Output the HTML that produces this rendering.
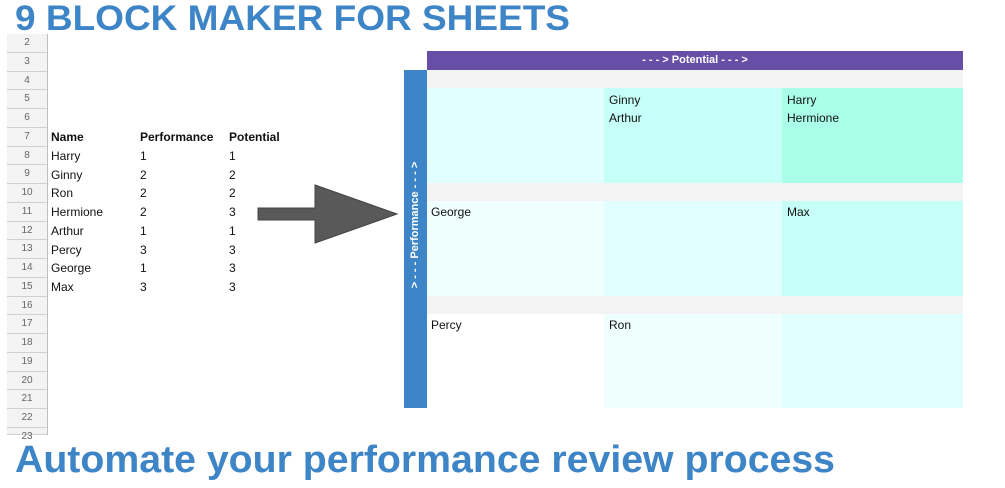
<!DOCTYPE html>
<html><head><style>
*{margin:0;padding:0;box-sizing:border-box}
body{width:1005px;height:488px;background:#fff;position:relative;overflow:hidden;font-family:"Liberation Sans",Arial,sans-serif}
.a{position:absolute}
.rh{position:absolute;left:7px;width:40px;background:#f3f3f3;border-bottom:1px solid #d0d0d0;color:#666;font-size:10px;text-align:center}
.t{position:absolute;font-size:12px;color:#111;line-height:14px}
.b{font-weight:bold}
</style></head><body>
<svg class="a" style="left:0;top:0" width="1005" height="488">
<text x="15" y="30" font-family="Liberation Sans" font-weight="bold" font-size="35" fill="#3d85c6" textLength="555" lengthAdjust="spacingAndGlyphs">9 BLOCK MAKER FOR SHEETS</text>
<text x="15" y="472" font-family="Liberation Sans" font-weight="bold" font-size="38" fill="#3d85c6" textLength="820" lengthAdjust="spacingAndGlyphs">Automate your performance review process</text>
</svg>
<div class="a" style="left:47px;top:34px;width:1px;height:401px;background:#c0c0c0"></div>
<div id="rows"></div>
<script>
var h='';for(var i=2;i<=23;i++){var y=34+(i-2)*18.75;var hh=i==23?435-y:18.75;h+='<div class="rh" style="top:'+y+'px;height:'+hh+'px;line-height:18px">'+i+'</div>';}
document.getElementById('rows').innerHTML=h;
</script>
<div class="t b" style="left:51px;top:130px">Name</div><div class="t b" style="left:140px;top:130px">Performance</div><div class="t b" style="left:229px;top:130px">Potential</div>
<div class="t" style="left:51px;top:149px">Harry</div><div class="t" style="left:140px;top:149px">1</div><div class="t" style="left:229px;top:149px">1</div>
<div class="t" style="left:51px;top:168px">Ginny</div><div class="t" style="left:140px;top:168px">2</div><div class="t" style="left:229px;top:168px">2</div>
<div class="t" style="left:51px;top:186px">Ron</div><div class="t" style="left:140px;top:186px">2</div><div class="t" style="left:229px;top:186px">2</div>
<div class="t" style="left:51px;top:205px">Hermione</div><div class="t" style="left:140px;top:205px">2</div><div class="t" style="left:229px;top:205px">3</div>
<div class="t" style="left:51px;top:224px">Arthur</div><div class="t" style="left:140px;top:224px">1</div><div class="t" style="left:229px;top:224px">1</div>
<div class="t" style="left:51px;top:243px">Percy</div><div class="t" style="left:140px;top:243px">3</div><div class="t" style="left:229px;top:243px">3</div>
<div class="t" style="left:51px;top:261px">George</div><div class="t" style="left:140px;top:261px">1</div><div class="t" style="left:229px;top:261px">3</div>
<div class="t" style="left:51px;top:280px">Max</div><div class="t" style="left:140px;top:280px">3</div><div class="t" style="left:229px;top:280px">3</div>
<svg class="a" style="left:0;top:0" width="1005" height="488">
<polygon points="258,208 315,208 315,185 397,214 315,243 315,220 258,220" fill="#595959" stroke="#444" stroke-width="1"/>
</svg>
<div class="a" style="left:427px;top:51px;width:536px;height:19px;background:#674ea7;color:#fff;font-size:11px;font-weight:bold;text-align:center;line-height:19px">- - - &gt; Potential - - - &gt;</div>
<div class="a" style="left:404px;top:70px;width:23px;height:338px;background:#3d85c6"></div>
<div class="a" style="left:415px;top:225px;width:0;height:0"><div style="position:absolute;left:-80px;top:-8px;width:160px;text-align:center;color:#fff;font-size:11px;font-weight:bold;line-height:16px;transform:rotate(-90deg)">&gt; - - - Performance - - - &gt;</div></div>
<div class="a" style="left:427px;top:70px;width:536px;height:18px;background:#f3f3f3"></div>
<div class="a" style="left:427px;top:183px;width:536px;height:18px;background:#f3f3f3"></div>
<div class="a" style="left:427px;top:296px;width:536px;height:18px;background:#f3f3f3"></div>
<div class="a" style="left:427px;top:88px;width:177px;height:95px;background:#e0fffe"></div>
<div class="a" style="left:604px;top:88px;width:178px;height:95px;background:#c6fff7"></div>
<div class="a" style="left:782px;top:88px;width:181px;height:95px;background:#aaffe9"></div>
<div class="a" style="left:427px;top:201px;width:177px;height:95px;background:#eefffe"></div>
<div class="a" style="left:604px;top:201px;width:178px;height:95px;background:#e0fffe"></div>
<div class="a" style="left:782px;top:201px;width:181px;height:95px;background:#c6fff7"></div>
<div class="a" style="left:427px;top:314px;width:177px;height:94px;background:#ffffff"></div>
<div class="a" style="left:604px;top:314px;width:178px;height:94px;background:#eefffe"></div>
<div class="a" style="left:782px;top:314px;width:181px;height:94px;background:#e0fffe"></div>
<div class="t" style="left:609px;top:93px">Ginny</div><div class="t" style="left:609px;top:111px">Arthur</div>
<div class="t" style="left:787px;top:93px">Harry</div><div class="t" style="left:787px;top:111px">Hermione</div>
<div class="t" style="left:431px;top:205px">George</div><div class="t" style="left:787px;top:205px">Max</div>
<div class="t" style="left:431px;top:318px">Percy</div><div class="t" style="left:609px;top:318px">Ron</div>
</body></html>
